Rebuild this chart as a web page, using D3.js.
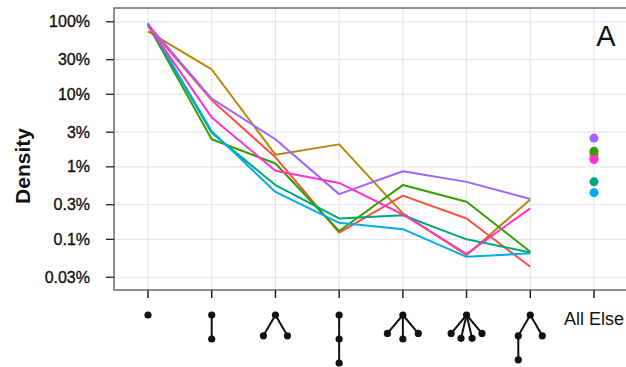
<!DOCTYPE html>
<html>
<head>
<meta charset="utf-8">
<script src="https://cdn.jsdelivr.net/npm/d3@7"></script>
<style>
  body { margin: 0; background: #fff; }
  svg { display: block; font-family: "Liberation Sans", Arial, sans-serif; }
</style>
</head>
<body>
<svg id="chart"></svg>
<script>
// tree shapes on the x axis, as parent index lists (-1 = root); last one is text
var categories = ["t1", "t2", "t3", "t4", "t5", "t6", "t7", "All Else"]
var trees = [
    [-1],
    [-1, 0],
    [-1, 0, 0],
    [-1, 0, 1],
    [-1, 0, 0, 0],
    [-1, 0, 0, 0, 0],
    [-1, 0, 0, 1],
    null
]

// densities in percent, one list per series
var goldVals    = [74, 22, 1.47, 2.04, 0.228, 0.0605, 0.355, 1.5]
var redVals     = [88, 8.3, 1.35, 0.124, 0.40, 0.194, 0.0418, 1.3]
var greenVals   = [90, 2.4, 1.11, 0.13, 0.56, 0.33, 0.0673, 1.64]
var tealVals    = [93, 2.95, 0.56, 0.194, 0.215, 0.10, 0.066, 0.62]
var blueVals    = [96, 3.1, 0.45, 0.169, 0.138, 0.0574, 0.064, 0.44]
var purpleVals  = [92, 8.7, 2.4, 0.42, 0.87, 0.62, 0.36, 2.49]
var magentaVals = [90, 4.8, 0.88, 0.60, 0.22, 0.063, 0.267, 1.26]

var seriesNames  = ["gold", "red", "green", "teal", "blue", "purple", "magenta"]
var seriesVals   = [goldVals, redVals, greenVals, tealVals, blueVals, purpleVals, magentaVals]
var seriesColors = ["#B8860B", "#FF4F3F", "#33A000", "#00A676", "#00AAEE", "#9966FF", "#FF33CC"]

var tickVals   = [100, 30, 10, 3, 1, 0.3, 0.1, 0.03]
var tickLabels = ["100%", "30%", "10%", "3%", "1%", "0.3%", "0.1%", "0.03%"]

var width = 626,
    height = 367
var panel = {left: 114, top: 8, right: 640, bottom: 290}

var svg = d3.select("#chart")
    .attr("width", width)
    .attr("height", height)

var x = d3.scalePoint()
    .domain(categories)
    .range([148, 594])

var y = d3.scaleLog()
    .domain([0.02, 155])
    .range([panel.bottom, panel.top])

// grid
svg.append("g")
    .selectAll("line")
    .data(tickVals)
    .enter().append("line")
    .attr("x1", panel.left).attr("x2", panel.right)
    .attr("y1", function (d) { return y(d) })
    .attr("y2", function (d) { return y(d) })
    .attr("stroke", "#e6e6e6")
    .attr("stroke-width", 1.2)
svg.append("g")
    .selectAll("line")
    .data(categories)
    .enter().append("line")
    .attr("x1", function (d) { return x(d) })
    .attr("x2", function (d) { return x(d) })
    .attr("y1", panel.top).attr("y2", panel.bottom)
    .attr("stroke", "#e6e6e6")
    .attr("stroke-width", 1.2)

// lines (all but the last category)
var line = d3.line()
    .x(function (d, i) { return x(categories[i]) })
    .y(function (d) { return y(d) })

svg.append("g")
    .selectAll("path")
    .data(seriesVals)
    .enter().append("path")
    .attr("d", function (d) { return line(d.slice(0, 7)) })
    .attr("fill", "none")
    .attr("stroke", function (d, i) { return seriesColors[i] })
    .attr("stroke-width", 2)
    .attr("stroke-linejoin", "round")

// "All Else" points
svg.append("g")
    .selectAll("circle")
    .data(seriesVals)
    .enter().append("circle")
    .attr("cx", x("All Else"))
    .attr("cy", function (d) { return y(d[7]) })
    .attr("r", 4.5)
    .attr("fill", function (d, i) { return seriesColors[i] })

// panel border (right side runs off the image)
svg.append("rect")
    .attr("x", panel.left).attr("y", panel.top)
    .attr("width", panel.right - panel.left)
    .attr("height", panel.bottom - panel.top)
    .attr("fill", "none")
    .attr("stroke", "#555")
    .attr("stroke-width", 1.3)

// y axis
var yAxis = svg.append("g")
yAxis.selectAll("line")
    .data(tickVals)
    .enter().append("line")
    .attr("x1", panel.left - 8).attr("x2", panel.left)
    .attr("y1", function (d) { return y(d) })
    .attr("y2", function (d) { return y(d) })
    .attr("stroke", "#222")
    .attr("stroke-width", 1.3)
yAxis.selectAll("text")
    .data(tickVals)
    .enter().append("text")
    .attr("x", 90)
    .attr("y", function (d) { return y(d) + 5.5 })
    .attr("text-anchor", "end")
    .attr("font-size", 16)
    .attr("fill", "#111")
    .attr("stroke", "#111")
    .attr("stroke-width", 0.35)
    .text(function (d, i) { return tickLabels[i] })

svg.append("text")
    .attr("transform", "translate(30,166) rotate(-90)")
    .attr("text-anchor", "middle")
    .attr("font-size", 21)
    .attr("font-weight", "bold")
    .attr("fill", "#111")
    .text("Density")

// x axis ticks
svg.append("g")
    .selectAll("line")
    .data(categories)
    .enter().append("line")
    .attr("x1", function (d) { return x(d) })
    .attr("x2", function (d) { return x(d) })
    .attr("y1", panel.bottom).attr("y2", panel.bottom + 8)
    .attr("stroke", "#222")
    .attr("stroke-width", 1.5)

// lay out a small tree: children fanned out below their parent
function layoutTree(parents) {
    var pts = parents.map(function () { return {x: 0, y: 0} })
    parents.forEach(function (p, i) {
        if (p < 0) return
        var sibs = []
        parents.forEach(function (q, j) { if (q == p) sibs.push(j) })
        var k = sibs.length, idx = sibs.indexOf(i)
        var spread = k == 1 ? 0 : (k == 2 ? 30 : 40)
        var ang = k == 1 ? 0 : (-spread + 2 * spread * idx / (k - 1)) * Math.PI / 180
        pts[i].x = pts[p].x + 24 * Math.sin(ang)
        pts[i].y = pts[p].y + 24 * Math.cos(ang)
    })
    return pts
}

var glyphs = svg.append("g")
categories.forEach(function (c, ci) {
    var tr = trees[ci]
    if (!tr) {
        glyphs.append("text")
            .attr("x", x(c))
            .attr("y", 325)
            .attr("text-anchor", "middle")
            .attr("font-size", 18)
            .attr("fill", "#111")
            .text(c)
        return
    }
    var pts = layoutTree(tr)
    var g = glyphs.append("g")
        .attr("transform", "translate(" + x(c) + ",315)")
    g.selectAll("line")
        .data(tr.filter(function (p) { return p >= 0 }).map(function (p, i) { return [p, i + 1] }))
        .enter().append("line")
        .attr("x1", function (d) { return pts[d[0]].x })
        .attr("y1", function (d) { return pts[d[0]].y })
        .attr("x2", function (d) { return pts[d[1]].x })
        .attr("y2", function (d) { return pts[d[1]].y })
        .attr("stroke", "#111")
        .attr("stroke-width", 2)
    g.selectAll("circle")
        .data(pts)
        .enter().append("circle")
        .attr("cx", function (d) { return d.x })
        .attr("cy", function (d) { return d.y })
        .attr("r", 3.6)
        .attr("fill", "#111")
})

// panel tag
svg.append("text")
    .attr("x", 606)
    .attr("y", 46)
    .attr("text-anchor", "middle")
    .attr("font-size", 29)
    .attr("fill", "#111")
    .text("A")
</script>
</body>
</html>
